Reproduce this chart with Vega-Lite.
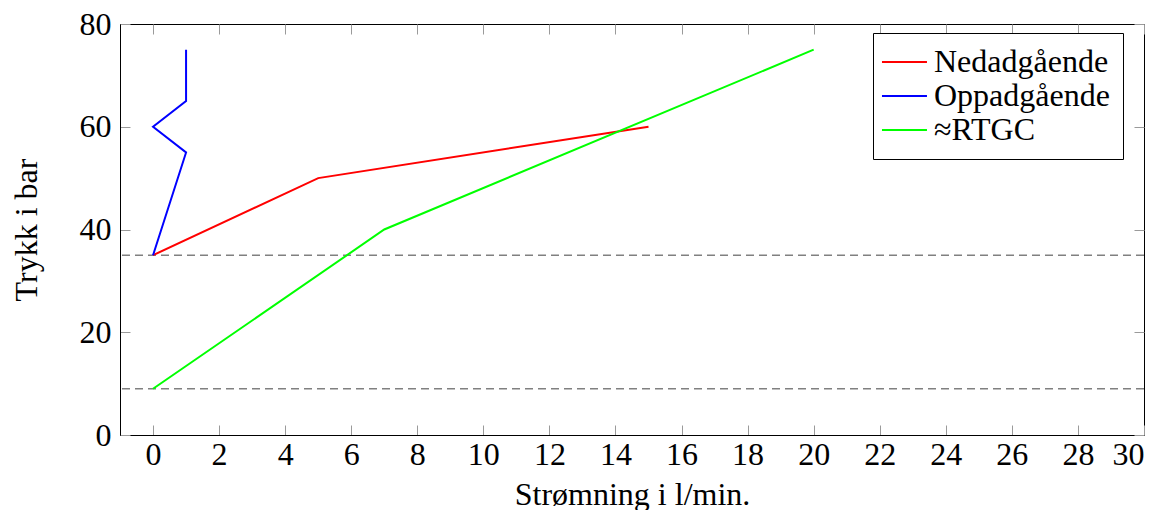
{
  "$schema": "https://vega.github.io/schema/vega-lite/v6.json",
  "width": 1024,
  "height": 411,
  "autosize": {"type": "none"},
  "padding": {"left": 120, "top": 24, "right": 19, "bottom": 75},
  "config": {
    "view": {"stroke": "black", "strokeWidth": 1},
    "font": "Liberation Serif",
    "axis": {
      "grid": false,
      "domainColor": "black",
      "tickColor": "#9a9a9a",
      "tickSize": -10,
      "labelFont": "Liberation Serif",
      "labelFontSize": 32,
      "labelColor": "black",
      "titleFont": "Liberation Serif",
      "titleFontSize": 32,
      "titleFontWeight": "normal",
      "titleColor": "black"
    },
    "legend": {"labelFont": "Liberation Serif", "labelLimit": 400}
  },
  "data": {
    "values": [
      {"series": "Nedadgående", "x": 0, "y": 35, "i": 0},
      {"series": "Nedadgående", "x": 5, "y": 50, "i": 1},
      {"series": "Nedadgående", "x": 15, "y": 60, "i": 2},
      {"series": "Oppadgående", "x": 0, "y": 35, "i": 0},
      {"series": "Oppadgående", "x": 1, "y": 55, "i": 1},
      {"series": "Oppadgående", "x": 0, "y": 60, "i": 2},
      {"series": "Oppadgående", "x": 1, "y": 65, "i": 3},
      {"series": "Oppadgående", "x": 1, "y": 75, "i": 4},
      {"series": "≈RTGC", "x": 0, "y": 9, "i": 0},
      {"series": "≈RTGC", "x": 7, "y": 40, "i": 1},
      {"series": "≈RTGC", "x": 20, "y": 75, "i": 2}
    ]
  },
  "layer": [
    {
      "data": {"values": [{"ref": 35}, {"ref": 9}]},
      "mark": {"type": "rule", "color": "#808080", "strokeDash": [8, 5], "strokeWidth": 1.6},
      "encoding": {
        "y": {"field": "ref", "type": "quantitative", "scale": {"domain": [0, 80]}, "axis": null}
      }
    },
    {
      "mark": {"type": "line", "strokeWidth": 2},
      "encoding": {
        "x": {
          "field": "x", "type": "quantitative",
          "scale": {"domain": [-1, 30], "nice": false, "zero": false},
          "axis": {"values": [0,2,4,6,8,10,12,14,16,18,20,22,24,26,28,30], "title": "Strømning i l/min.", "labelPadding": 14, "titlePadding": 9}
        },
        "y": {
          "field": "y", "type": "quantitative",
          "scale": {"domain": [0, 80], "nice": false},
          "axis": {"values": [0, 20, 40, 60, 80], "title": "Trykk i bar", "labelPadding": 19, "titlePadding": 36}
        },
        "color": {
          "field": "series", "type": "nominal",
          "scale": {"domain": ["Nedadgående", "Oppadgående", "≈RTGC"], "range": ["#ff0000", "#0000ff", "#00ff00"]},
          "legend": {
            "title": null,
            "orient": "none",
            "legendX": 753,
            "legendY": 9,
            "symbolType": "M-1.78,0H2.22",
            "symbolSize": 506,
            "symbolStrokeWidth": 2,
            "labelFont": "Liberation Serif",
            "labelFontSize": 32,
            "labelColor": "black",
            "labelLimit": 400,
            "labelOffset": 16,
            "strokeColor": "black",
            "fillColor": "white",
            "padding": 13,
            "rowPadding": 2
          }
        },
        "order": {"field": "i", "type": "quantitative"}
      }
    },
    {
      "mark": {"type": "point", "opacity": 0},
      "encoding": {
        "x": {
          "field": "x", "type": "quantitative",
          "scale": {"domain": [-1, 30], "nice": false, "zero": false},
          "axis": {"orient": "top", "values": [0,2,4,6,8,10,12,14,16,18,20,22,24,26,28,30], "labels": false, "title": null, "domain": false}
        },
        "y": {
          "field": "y", "type": "quantitative",
          "scale": {"domain": [0, 80], "nice": false},
          "axis": {"orient": "right", "values": [0, 20, 40, 60, 80], "labels": false, "title": null, "domain": false}
        }
      }
    }
  ],
  "resolve": {"axis": {"x": "independent", "y": "independent"}}
}
